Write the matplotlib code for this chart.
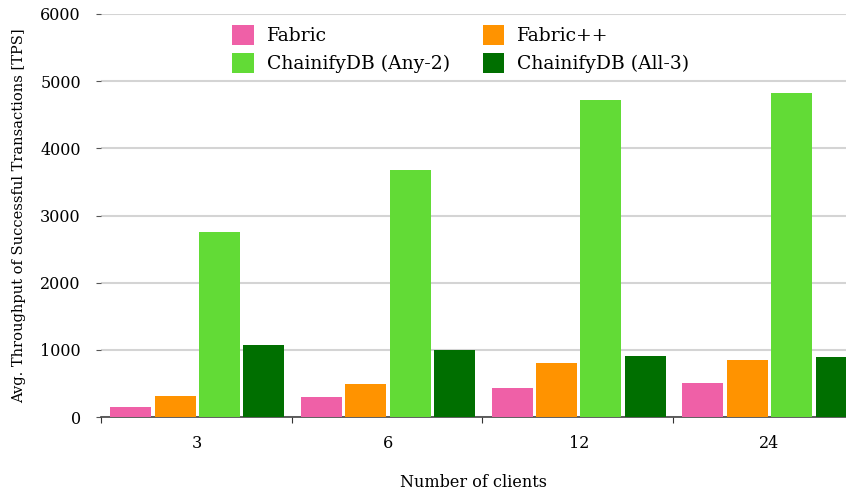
import matplotlib
matplotlib.use('Agg')
import matplotlib.pyplot as plt
import numpy as np

plt.rcParams['font.family'] = ['DejaVu Serif']

clients = ['3', '6', '12', '24']
series = ['Fabric', 'Fabric++', 'ChainifyDB (Any-2)', 'ChainifyDB (All-3)']
fabric = [150, 300, 430, 505]
fabric_pp = [312, 490, 805, 850]
any2 = [2755, 3675, 4720, 4825]
all3 = [1070, 998, 908, 893]
colors = ['#EF60A7', '#FF9300', '#62DB36', '#006F00']

values = [fabric, fabric_pp, any2, all3]

fig = plt.figure(figsize=(8.46, 4.91), dpi=100)
ax = fig.add_axes([101 / 846, 74 / 491, 1 - 101 / 846, (417 - 14) / 491])

step = 0.233
width = 0.215
x = np.arange(len(clients)) + 0.505
bars = []
for k in range(4):
    b = ax.bar(x + (k - 1.5) * step, values[k], width, color=colors[k], label=series[k], zorder=3)
    bars.append(b)

ax.set_yticks([0, 1000, 2000, 3000, 4000, 5000, 6000])
ax.yaxis.grid(True, color='#d4d4d4', linewidth=1.5, zorder=0)

ax.set_xticks([0, 1, 2, 3, 4])
ax.set_xticklabels([])
ax.set_xticks(x, minor=True)
ax.set_xticklabels(clients, minor=True)
ax.tick_params(axis='x', which='minor', length=0, pad=13, labelsize=11.5)
ax.tick_params(axis='x', which='major', length=4, color='#333333')
ax.tick_params(axis='y', length=3.5, color='#555555', pad=11, labelsize=11.5)

ax.set_xlim(0, (846 - 101) / 190.7)
ax.set_ylim(0, 6000)

for s in ['top', 'right', 'left']:
    ax.spines[s].set_visible(False)
ax.spines['bottom'].set_color('#444444')
ax.spines['bottom'].set_linewidth(1.2)

ax.set_xlabel('Number of clients', fontsize=11.5, labelpad=16)
ax.set_ylabel('Avg. Throughput of Successful Transactions [TPS]', fontsize=10.5, labelpad=10)

# row-major legend order
order = [0, 2, 1, 3]
ax.legend([bars[i] for i in order], [series[i] for i in order],
          ncol=2, loc='upper left', bbox_to_anchor=(217 / 846, 1 - 10 / 491),
          bbox_transform=fig.transFigure, frameon=False, fontsize=13.5,
          handlelength=1.15, handleheight=1.25, handletextpad=0.7,
          columnspacing=1.75, labelspacing=0.4, borderpad=0.3)

fig.savefig('out.png', dpi=100)
